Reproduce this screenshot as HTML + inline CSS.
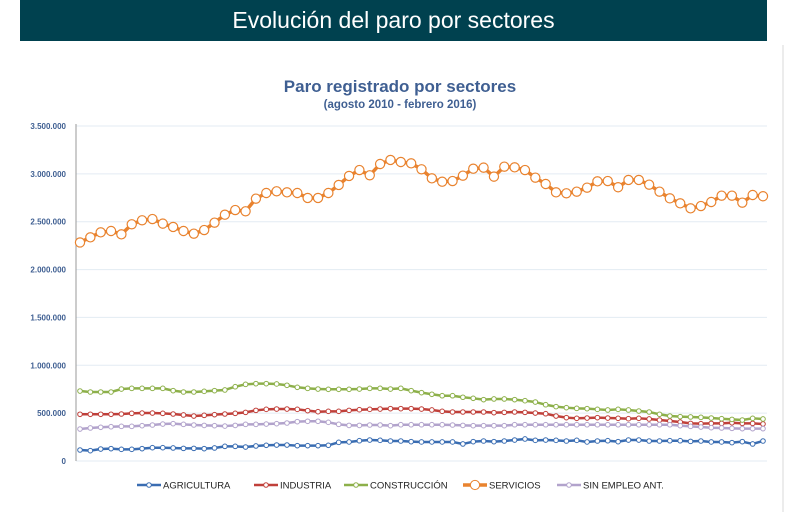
<!DOCTYPE html>
<html><head><meta charset="utf-8"><style>
body{margin:0;width:801px;height:512px;background:#fff;overflow:hidden;font-family:"Liberation Sans",sans-serif;}
#hdr{position:absolute;left:20px;top:0;width:747px;height:41px;background:#00414f;color:#fff;font-size:23px;text-align:center;line-height:41px;}
svg{position:absolute;left:0;top:0;}
</style></head><body>
<div id="hdr">Evolución del paro por sectores</div>
<svg id="chart" width="801" height="512"></svg>
<script>
const months = 67;
const yTicks = [0,500000,1000000,1500000,2000000,2500000,3000000,3500000];
const yTickLabels = ["0","500.000","1.000.000","1.500.000","2.000.000","2.500.000","3.000.000","3.500.000"];
const seriesNames = ["AGRICULTURA","INDUSTRIA","CONSTRUCCIÓN","SERVICIOS","SIN EMPLEO ANT."];
const agricultura = [115,108,125,129,122,122,129,139,139,136,132,132,129,136,153,153,146,157,164,167,167,160,160,160,164,195,199,212,219,216,209,209,202,199,199,199,199,178,202,209,202,209,219,230,216,219,216,209,216,199,209,212,202,219,219,209,209,212,212,205,209,199,199,192,202,178,209].map(v=>v*1000);
const industria = [488,488,488,488,491,498,501,501,498,491,481,470,477,484,491,498,508,529,540,543,543,540,526,515,519,519,529,536,540,543,547,547,547,543,533,519,512,512,512,512,505,508,512,508,501,494,470,453,446,449,453,449,446,442,446,439,428,418,407,393,390,393,393,400,393,393,387].map(v=>v*1000);
const construccion = [731,721,721,721,752,759,759,759,759,735,721,721,728,735,742,776,801,808,808,805,791,770,759,752,749,749,749,752,759,759,752,759,735,714,697,682,682,666,655,641,648,648,641,630,616,588,568,557,550,547,540,533,540,533,522,512,488,470,463,460,456,449,442,435,428,446,439].map(v=>v*1000);
const servicios = [2283,2337,2389,2403,2368,2473,2515,2528,2480,2445,2403,2375,2413,2490,2573,2622,2609,2741,2800,2818,2807,2800,2748,2748,2800,2884,2978,3040,2985,3103,3145,3124,3110,3048,2953,2918,2925,2981,3054,3065,2971,3075,3068,3040,2960,2894,2807,2797,2814,2856,2922,2925,2860,2936,2936,2887,2814,2744,2692,2640,2664,2706,2772,2772,2699,2779,2766].map(v=>v*1000);
const sinEmpleo = [334,345,352,358,362,362,369,376,386,390,383,376,372,369,365,372,383,383,386,390,397,411,415,415,404,383,372,372,376,376,369,379,379,379,379,379,376,372,369,369,369,369,379,379,379,379,379,379,379,379,379,379,379,379,379,379,379,379,369,362,355,348,345,341,338,338,338].map(v=>v*1000);
const colors = ["#3a6db2","#c0403a","#8db04a","#e9832f","#b2a3cc"];
const allSeries = [agricultura,industria,construccion,servicios,sinEmpleo];
const seriesKeys = ["agricultura","industria","construccion","servicios","sin-empleo"];

const X0=80, X1=763, Y0=461, Y1=126, YMAX=3500000;
const xs = i => X0 + i*(X1-X0)/(months-1);
const ys = v => Y0 - v/YMAX*(Y0-Y1);
const NS="http://www.w3.org/2000/svg";
const svg=document.getElementById('chart');
function mk(t,a,p){const e=document.createElementNS(NS,t);for(const k in a)e.setAttribute(k,a[k]);(p||svg).appendChild(e);return e;}

const edge=mk('line',{x1:783,y1:45,x2:783,y2:512,stroke:'#d8d8d8','stroke-width':1});



let t=mk('text',{x:400,y:92,'text-anchor':'middle','font-size':17,'font-weight':'bold',fill:'#3f5f92'});
t.textContent='Paro registrado por sectores';


t=mk('text',{x:400,y:108,'text-anchor':'middle','font-size':11.5,'font-weight':'bold',fill:'#3f5f92'});
t.textContent='(agosto 2010 - febrero 2016)';



yTicks.forEach((v,i)=>{
  const g=mk('line',{x1:76,x2:767,y1:ys(v),y2:ys(v),stroke:'#e3ebf3','stroke-width':1});
  
  
  const l=mk('text',{x:66,y:ys(v)+3,'text-anchor':'end','font-size':8,'font-weight':'bold',fill:'#3f5f92'});
  l.textContent=yTickLabels[i];
  
  
});
const ax=mk('line',{x1:76,x2:76,y1:124,y2:461,stroke:'#999','stroke-width':1});



allSeries.forEach((s,k)=>{
  const big=k===3;
  const g=mk('g',{});
  
  
  const p=mk('polyline',{points:s.map((v,i)=>xs(i)+','+ys(v)).join(' '),fill:'none',stroke:colors[k],'stroke-width':big?3.5:2.5,'stroke-linejoin':'round'},g);
  
  
  s.forEach((v,i)=>{
    const c=mk('circle',{cx:xs(i),cy:ys(v),r:big?4.6:2.3,fill:'#fff',stroke:colors[k],'stroke-width':big?1.2:1},g);
    
    
  });
});

const legX=[137,254,344,463,557];
seriesNames.forEach((n,k)=>{
  const big=k===3;
  const g=mk('g',{});
  
  
  const x=legX[k], y=485;
  mk('line',{x1:x,x2:x+24,y1:y,y2:y,stroke:colors[k],'stroke-width':big?3.5:2.5},g);
  mk('circle',{cx:x+12,cy:y,r:big?4.6:2.3,fill:'#fff',stroke:colors[k],'stroke-width':1},g);
  const tx=mk('text',{x:x+26,y:y+3.5,'font-size':9.5,fill:'#222'},g);
  tx.textContent=n;
});
</script>
</body></html>
